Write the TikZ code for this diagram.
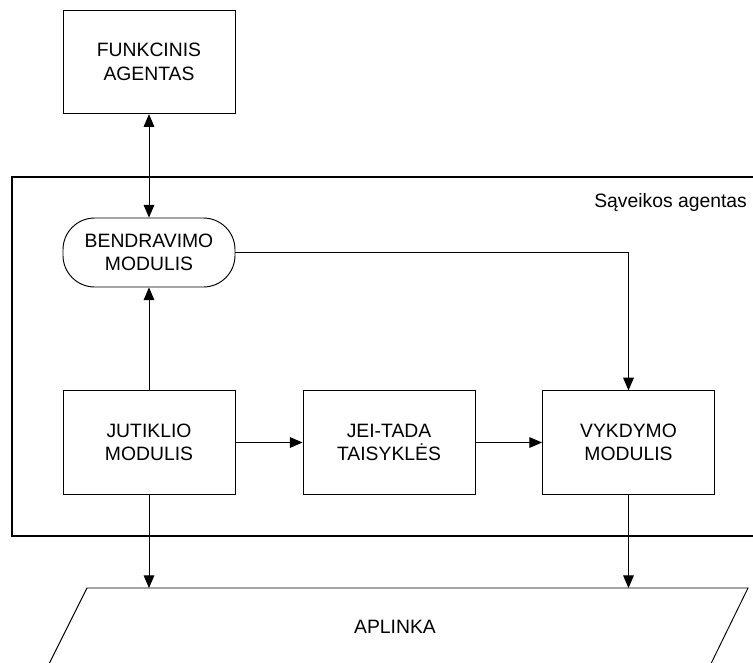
\documentclass[tikz,border=0pt]{standalone}
\usepackage{fontspec}
\setmainfont{Liberation Sans}
\usetikzlibrary{arrows.meta}
\begin{document}
\begin{tikzpicture}[x=0.03cm, y=-0.03cm,
    >={Triangle[length=0.38cm, width=0.32cm]},
    every node/.style={font=\fontsize{16.5}{20}\selectfont},
    block/.style={draw, line width=0.8pt, align=center,
      minimum width=5.16cm, minimum height=3.1cm, inner sep=0pt},
    comm/.style={block, minimum height=2.07cm, rounded corners=0.95cm},
    edge/.style={->, line width=0.8pt}]

  \useasboundingbox (0,0) rectangle (753,662);

  % outer agent frame
  \draw[line width=1.6pt] (12,177) rectangle (770,536);
  \node[anchor=east] (sa) at (751,203) {Sąveikos agentas};

  \node[block] (fa) at (149, 62)    {FUNKCINIS\\AGENTAS};
  \node[comm]  (bm) at (149, 252.5) {BENDRAVIMO\\MODULIS};
  \node[block] (jm) at (149, 442.5) {JUTIKLIO\\MODULIS};
  \node[block] (jt) at (389, 442.5) {JEI-TADA\\TAISYKLĖS};
  \node[block] (vm) at (628.5, 442.5) {VYKDYMO\\MODULIS};

  % environment
  \draw[line width=0.8pt] (40,682) -- (87,588) -- (748,588) -- (702,682);
  \node (apl) at (395,627) {APLINKA};
  \coordinate (a1) at (149,588);
  \coordinate (a2) at (628.5,588);

  \draw[edge, <->] (fa) -- (bm);
  \draw[edge] (jm) -- (bm);
  \draw[edge] (bm) -| (vm);
  \draw[edge] (jm) -- (jt);
  \draw[edge] (jt) -- (vm);
  \draw[edge] (jm) -- (a1);
  \draw[edge] (vm) -- (a2);
\end{tikzpicture}
\end{document}
